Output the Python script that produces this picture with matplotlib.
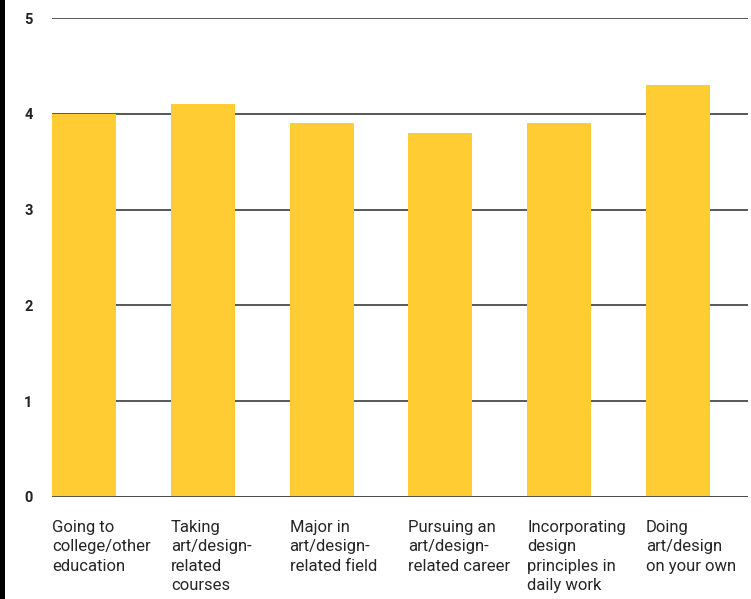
import matplotlib
matplotlib.use("Agg")
import matplotlib.pyplot as plt
from matplotlib.patches import Rectangle
from matplotlib.transforms import blended_transform_factory

categories = [
    "Going to\ncollege/other\neducation",
    "Taking\nart/design-\nrelated\ncourses",
    "Major in\nart/design-\nrelated field",
    "Pursuing an\nart/design-\nrelated career",
    "Incorporating\ndesign\nprinciples in\ndaily work",
    "Doing\nart/design\non your own",
]
values = [4.0, 4.1, 3.9, 3.8, 3.9, 4.3]
y_ticks = [0, 1, 2, 3, 4, 5]

plt.rcParams["font.family"] = ["Roboto", "DejaVu Sans"]

W, H = 751, 599
fig = plt.figure(figsize=(W / 100, H / 100), dpi=100)
fig.patch.set_facecolor("white")

# black strip along the left edge
fig.patches.append(Rectangle((0, 0), 5 / W, 1, transform=fig.transFigure,
                             facecolor="black", edgecolor="none", zorder=0))

ax = fig.add_axes([52 / W, 1 - 497 / H, (748 - 52) / W, (497 - 18) / H])
width = 0.54
x = list(range(len(values)))
ax.bar(x, values, width=width, color="#FFCD33", zorder=3)

ax.set_ylim(0, 5)
ax.set_xlim(-width / 2, 5.59)
ax.set_yticks(y_ticks)
ax.set_yticklabels([str(t) for t in y_ticks], fontsize=10.5,
                   fontweight="bold", color="#222222")
ax.tick_params(axis="y", length=0, pad=14)
ax.set_xticks([])
ax.yaxis.grid(True, color="#4a4a4a", linewidth=1.3, zorder=1)
ax.set_axisbelow(True)
for s in ax.spines.values():
    s.set_visible(False)
ax.axhline(0, color="#4a4a4a", linewidth=1.3, zorder=4)

trans = blended_transform_factory(ax.transData, ax.transAxes)
for xi, lab in zip(x, categories):
    ax.text(xi - width / 2, -0.048, lab, transform=trans, ha="left", va="top",
            fontsize=12, color="#262626", linespacing=1.37)

fig.savefig("out.png", dpi=100, facecolor="white")
